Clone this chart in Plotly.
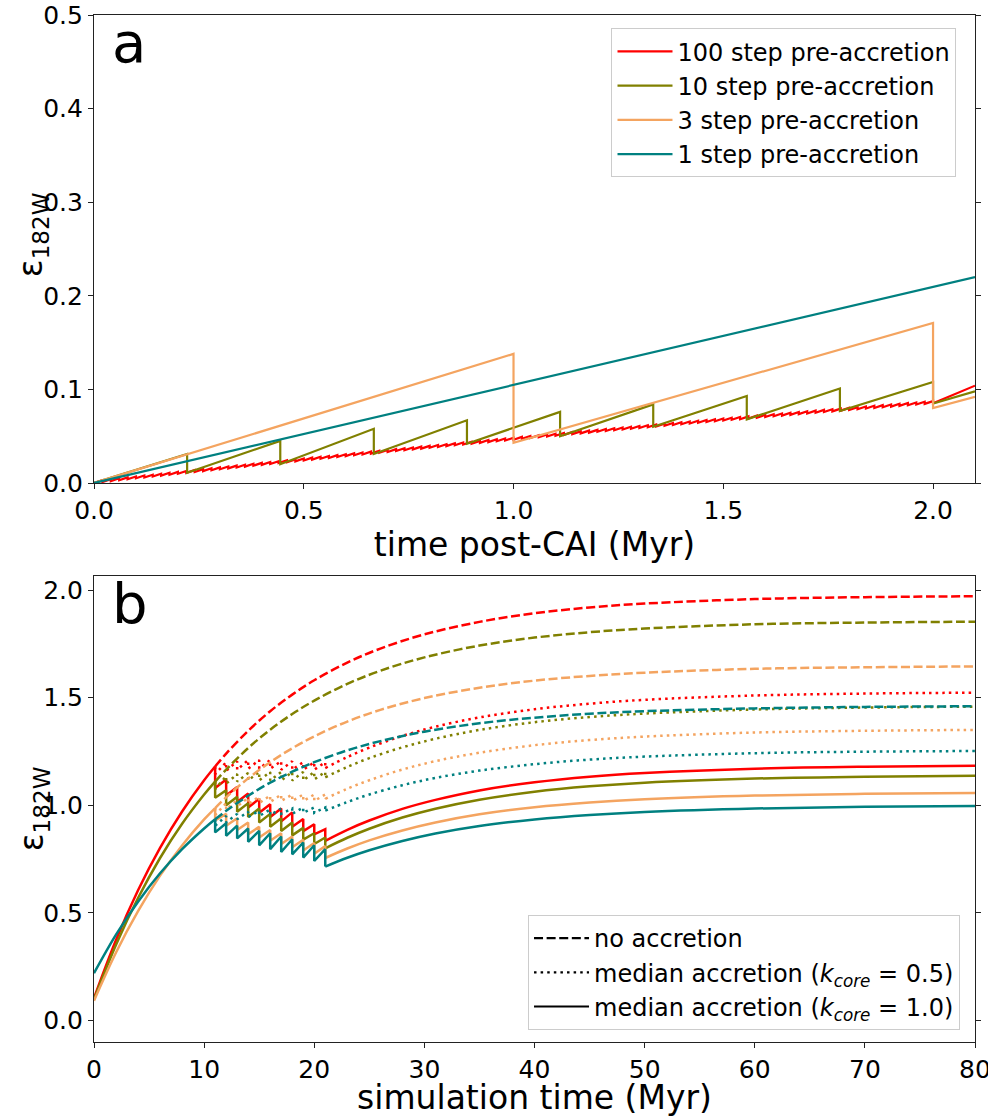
import numpy as np
import plotly.graph_objects as go

RED, OLIVE, ORANGE, TEAL = "#ff0000", "#808000", "#f4a460", "#008080"
FONT = "DejaVu Sans"

# ---------------- Panel a data (time post-CAI, Myr) ----------------
a_teal_t = [0.0, 2.1]
a_teal_y = [0.0, 0.220]

a_orange_steps = [1.0, 2.0]
a_orange_peak = [0.138, 0.171]
a_orange_trough = [0.043, 0.080]
a_orange_end = 0.092

a_olive_steps = [0.222, 0.444, 0.667, 0.889, 1.111, 1.333, 1.556, 1.778, 2.0]
a_olive_peak = [0.031, 0.045, 0.058, 0.067, 0.076, 0.084, 0.093, 0.101, 0.108]
a_olive_trough = [0.011, 0.020, 0.031, 0.042, 0.050, 0.060, 0.068, 0.077, 0.085]
a_olive_end = 0.098

a_red_steps = np.linspace(0.02, 2.0, 100)
a_red_peak = [
    0.0030, 0.0040, 0.0050, 0.0060, 0.0070, 0.0080, 0.0089, 0.0099, 0.0109, 0.0119,
    0.0129, 0.0138, 0.0148, 0.0157, 0.0167, 0.0177, 0.0186, 0.0196, 0.0205, 0.0215,
    0.0224, 0.0233, 0.0243, 0.0252, 0.0261, 0.0271, 0.0280, 0.0289, 0.0298, 0.0308,
    0.0317, 0.0326, 0.0335, 0.0344, 0.0353, 0.0362, 0.0371, 0.0380, 0.0389, 0.0397,
    0.0406, 0.0415, 0.0424, 0.0433, 0.0441, 0.0450, 0.0459, 0.0467, 0.0476, 0.0484,
    0.0493, 0.0502, 0.0510, 0.0518, 0.0527, 0.0535, 0.0544, 0.0552, 0.0560, 0.0568,
    0.0577, 0.0585, 0.0593, 0.0601, 0.0609, 0.0617, 0.0626, 0.0634, 0.0642, 0.0650,
    0.0657, 0.0665, 0.0673, 0.0681, 0.0689, 0.0697, 0.0705, 0.0712, 0.0720, 0.0728,
    0.0735, 0.0743, 0.0750, 0.0758, 0.0766, 0.0773, 0.0781, 0.0788, 0.0795, 0.0803,
    0.0810, 0.0817, 0.0825, 0.0832, 0.0839, 0.0846, 0.0854, 0.0861, 0.0868, 0.0875]
a_red_trough = [
    0.0010, 0.0020, 0.0030, 0.0040, 0.0050, 0.0059, 0.0069, 0.0079, 0.0089, 0.0099,
    0.0108, 0.0118, 0.0127, 0.0137, 0.0147, 0.0156, 0.0166, 0.0175, 0.0185, 0.0194,
    0.0203, 0.0213, 0.0222, 0.0231, 0.0241, 0.0250, 0.0259, 0.0268, 0.0278, 0.0287,
    0.0296, 0.0305, 0.0314, 0.0323, 0.0332, 0.0341, 0.0350, 0.0359, 0.0367, 0.0376,
    0.0385, 0.0394, 0.0403, 0.0411, 0.0420, 0.0429, 0.0437, 0.0446, 0.0454, 0.0463,
    0.0472, 0.0480, 0.0488, 0.0497, 0.0505, 0.0514, 0.0522, 0.0530, 0.0538, 0.0547,
    0.0555, 0.0563, 0.0571, 0.0579, 0.0587, 0.0596, 0.0604, 0.0612, 0.0620, 0.0627,
    0.0635, 0.0643, 0.0651, 0.0659, 0.0667, 0.0675, 0.0682, 0.0690, 0.0698, 0.0705,
    0.0713, 0.0720, 0.0728, 0.0736, 0.0743, 0.0751, 0.0758, 0.0765, 0.0773, 0.0780,
    0.0787, 0.0795, 0.0802, 0.0809, 0.0816, 0.0824, 0.0831, 0.0838, 0.0845, 0.0852]
a_red_end = 0.104
a_end_t = 2.1

# ---------------- Panel b data (simulation time, Myr) ----------------
# no-accretion (dashed) curves; the first 7 points (t<=11) are shared by all styles
dash_t = [0, 2, 4, 6, 8, 10, 11, 12, 14, 16, 18, 20, 23, 26, 30, 35, 40, 45, 50, 60, 70, 80]
red_dash = [0.104, 0.374, 0.605, 0.802, 0.971, 1.116, 1.180, 1.240, 1.346, 1.437, 1.514,
            1.581, 1.663, 1.728, 1.794, 1.852, 1.892, 1.919, 1.937, 1.958, 1.967, 1.971]
olive_dash = [0.098, 0.352, 0.569, 0.755, 0.914, 1.050, 1.110, 1.166, 1.266, 1.351, 1.424,
              1.486, 1.564, 1.625, 1.687, 1.742, 1.779, 1.804, 1.821, 1.841, 1.849, 1.853]
orange_dash = [0.092, 0.316, 0.508, 0.673, 0.813, 0.934, 0.987, 1.037, 1.125, 1.200, 1.265,
               1.320, 1.389, 1.443, 1.498, 1.546, 1.579, 1.601, 1.616, 1.634, 1.641, 1.645]
teal_dash = [0.220, 0.399, 0.552, 0.684, 0.796, 0.892, 0.935, 0.974, 1.044, 1.105, 1.156,
             1.200, 1.255, 1.298, 1.342, 1.381, 1.407, 1.425, 1.437, 1.450, 1.457, 1.460]
n_pre = 7

acc_t = [11, 12, 13, 14, 15, 16, 17, 18, 19, 20, 21]
# k_core = 1.0 (solid)
red_sol_peak = [1.180, 1.120, 1.085, 1.055, 1.030, 1.005, 0.985, 0.967, 0.936, 0.912, 0.889]
red_sol_trough = [1.080, 1.045, 1.015, 0.990, 0.965, 0.945, 0.925, 0.900, 0.880, 0.865, 0.835]
olive_sol_peak = [1.110, 1.070, 1.040, 1.010, 0.985, 0.960, 0.940, 0.920, 0.895, 0.870, 0.850]
olive_sol_trough = [1.035, 1.000, 0.970, 0.945, 0.920, 0.900, 0.880, 0.860, 0.840, 0.820, 0.800]
orange_sol_peak = [0.987, 0.960, 0.940, 0.920, 0.900, 0.885, 0.870, 0.855, 0.840, 0.825, 0.810]
orange_sol_trough = [0.930, 0.905, 0.885, 0.865, 0.850, 0.835, 0.820, 0.805, 0.790, 0.775, 0.755]
teal_sol_peak = [0.935, 0.916, 0.905, 0.892, 0.881, 0.870, 0.855, 0.842, 0.827, 0.814, 0.796]
teal_sol_trough = [0.874, 0.858, 0.846, 0.830, 0.814, 0.796, 0.783, 0.772, 0.757, 0.741, 0.715]
# k_core = 0.5 (dotted)
red_dot_peak = [1.180, 1.200, 1.205, 1.210, 1.210, 1.210, 1.205, 1.205, 1.200, 1.200, 1.200]
red_dot_trough = [1.145, 1.160, 1.165, 1.170, 1.170, 1.170, 1.165, 1.165, 1.165, 1.165, 1.173]
olive_dot_peak = [1.110, 1.135, 1.145, 1.150, 1.155, 1.155, 1.155, 1.155, 1.155, 1.155, 1.155]
olive_dot_trough = [1.075, 1.100, 1.110, 1.115, 1.115, 1.115, 1.115, 1.115, 1.115, 1.120, 1.130]
orange_dot_peak = [0.987, 1.010, 1.025, 1.035, 1.040, 1.045, 1.050, 1.050, 1.050, 1.050, 1.050]
orange_dot_trough = [0.955, 0.980, 0.995, 1.005, 1.010, 1.015, 1.020, 1.020, 1.020, 1.020, 1.030]
teal_dot_peak = [0.935, 0.950, 0.960, 0.970, 0.975, 0.980, 0.985, 0.985, 0.990, 0.990, 0.990]
teal_dot_trough = [0.905, 0.920, 0.935, 0.945, 0.950, 0.955, 0.960, 0.960, 0.965, 0.965, 0.975]

post_t = [21, 23, 25, 28, 31, 35, 40, 45, 50, 60, 70, 80]
red_sol_post = [0.835, 0.886, 0.929, 0.983, 1.025, 1.069, 1.107, 1.133, 1.150, 1.170, 1.179, 1.183]
olive_sol_post = [0.800, 0.849, 0.891, 0.943, 0.984, 1.026, 1.063, 1.088, 1.105, 1.124, 1.133, 1.137]
orange_sol_post = [0.755, 0.799, 0.837, 0.883, 0.920, 0.958, 0.991, 1.013, 1.028, 1.045, 1.053, 1.057]
teal_sol_post = [0.715, 0.756, 0.791, 0.834, 0.869, 0.904, 0.934, 0.955, 0.969, 0.985, 0.993, 0.996]
red_dot_post = [1.173, 1.224, 1.268, 1.322, 1.365, 1.408, 1.446, 1.472, 1.490, 1.510, 1.519, 1.523]
olive_dot_post = [1.130, 1.178, 1.219, 1.269, 1.309, 1.350, 1.386, 1.410, 1.426, 1.445, 1.454, 1.458]
orange_dot_post = [1.030, 1.077, 1.116, 1.166, 1.205, 1.244, 1.279, 1.303, 1.319, 1.338, 1.346, 1.350]
teal_dot_post = [0.975, 1.015, 1.050, 1.093, 1.127, 1.161, 1.191, 1.212, 1.226, 1.242, 1.249, 1.252]

a_labels = ["100 step pre-accretion", "10 step pre-accretion",
            "3 step pre-accretion", "1 step pre-accretion"]
b_labels = ["no accretion",
            "median accretion (<i>k</i><sub><i>core</i></sub> = 0.5)",
            "median accretion (<i>k</i><sub><i>core</i></sub> = 1.0)"]
y_title = "ε<sub>182W</sub>"


def saw(t0, y0, steps, peaks, troughs, t_end=None, y_end=None):
    xs, ys = [t0], [y0]
    for t, p, q in zip(steps, peaks, troughs):
        xs += [t, t]
        ys += [p, q]
    if t_end is not None:
        xs.append(t_end)
        ys.append(y_end)
    return xs, ys


fig = go.Figure()

# ---- panel a ----
LW_A = 2.2
xs, ys = saw(0.0, 0.0, a_red_steps, a_red_peak, a_red_trough, a_end_t, a_red_end)
fig.add_trace(go.Scatter(x=xs, y=ys, mode="lines", line=dict(color=RED, width=LW_A),
                         name=a_labels[0], legend="legend", xaxis="x", yaxis="y"))
xs, ys = saw(0.0, 0.0, a_olive_steps, a_olive_peak, a_olive_trough, a_end_t, a_olive_end)
fig.add_trace(go.Scatter(x=xs, y=ys, mode="lines", line=dict(color=OLIVE, width=LW_A),
                         name=a_labels[1], legend="legend", xaxis="x", yaxis="y"))
xs, ys = saw(0.0, 0.0, a_orange_steps, a_orange_peak, a_orange_trough, a_end_t, a_orange_end)
fig.add_trace(go.Scatter(x=xs, y=ys, mode="lines", line=dict(color=ORANGE, width=LW_A),
                         name=a_labels[2], legend="legend", xaxis="x", yaxis="y"))
fig.add_trace(go.Scatter(x=a_teal_t, y=a_teal_y, mode="lines", line=dict(color=TEAL, width=LW_A),
                         name=a_labels[3], legend="legend", xaxis="x", yaxis="y"))

# ---- panel b ----
LW_B = 2.5
DASH = "9px,3.6px"
DOT = "2.5px,4.1px"

series = [
    (RED, red_dash, red_dot_peak, red_dot_trough, red_dot_post, red_sol_peak, red_sol_trough, red_sol_post),
    (OLIVE, olive_dash, olive_dot_peak, olive_dot_trough, olive_dot_post, olive_sol_peak, olive_sol_trough, olive_sol_post),
    (ORANGE, orange_dash, orange_dot_peak, orange_dot_trough, orange_dot_post, orange_sol_peak, orange_sol_trough, orange_sol_post),
    (TEAL, teal_dash, teal_dot_peak, teal_dot_trough, teal_dot_post, teal_sol_peak, teal_sol_trough, teal_sol_post),
]


def add_b(x, y, color, dash, shape):
    fig.add_trace(go.Scatter(x=x, y=y, mode="lines", showlegend=False,
                             line=dict(color=color, width=LW_B, dash=dash, shape=shape),
                             xaxis="x2", yaxis="y2", hoverinfo="skip"))


for color, dsh, dpk, dtr, dpo, spk, sstr, spo in series:
    add_b(dash_t[n_pre - 1:], dsh[n_pre - 1:], color, DASH, "spline")
    xs, ys = saw(acc_t[0], dpk[0], acc_t, dpk, dtr)
    add_b(xs[1:], ys[1:], color, DOT, "linear")
    add_b(post_t, dpo, color, DOT, "spline")
    xs, ys = saw(acc_t[0], spk[0], acc_t, spk, sstr)
    add_b(xs[1:], ys[1:], color, "solid", "linear")
    add_b(post_t, spo, color, "solid", "spline")
    add_b(dash_t[:n_pre], dsh[:n_pre], color, "solid", "spline")

for lab, dsh in zip(b_labels, [DASH, DOT, "solid"]):
    fig.add_trace(go.Scatter(x=[None], y=[None], mode="lines", name=lab, legend="legend2",
                             line=dict(color="black", width=2.2, dash=dsh),
                             xaxis="x2", yaxis="y2"))

TOP_A = 0.5443
TOP_B = 0.4537
TICK = 25
TITLE = 33

axis_common = dict(showline=True, linecolor="#222", linewidth=1.2, mirror=True,
                   ticks="outside", ticklen=5, tickwidth=1.2, tickcolor="#222",
                   showgrid=False, zeroline=False, automargin=False,
                   ticklabeloverflow="allow",
                   tickfont=dict(family=FONT, size=TICK, color="black"))

fig.update_layout(
    width=988, height=1117,
    margin=dict(l=94, r=13, t=15, b=75),
    plot_bgcolor="white", paper_bgcolor="white",
    font=dict(family=FONT, color="black"),
    xaxis=dict(domain=[0, 1], range=[0, 2.1], anchor="y", tickvals=[0, 0.5, 1.0, 1.5, 2.0],
               tickformat=".1f",
               title=dict(text="time post-CAI (Myr)", font=dict(family=FONT, size=TITLE), standoff=3),
               **axis_common),
    yaxis=dict(domain=[TOP_A, 1.0], range=[0, 0.5], anchor="x",
               tickvals=[0, 0.1, 0.2, 0.3, 0.4, 0.5], tickformat=".1f",
               **{**axis_common, "mirror": "ticks"}),
    xaxis2=dict(domain=[0, 1], range=[0, 80], anchor="y2", tickvals=list(range(0, 90, 10)),
                title=dict(text="simulation time (Myr)", font=dict(family=FONT, size=TITLE), standoff=3),
                **axis_common),
    yaxis2=dict(domain=[0, TOP_B], range=[-0.1, 2.065], anchor="x2",
                tickvals=[0, 0.5, 1.0, 1.5, 2.0], tickformat=".1f",
                **{**axis_common, "mirror": "ticks"}),
    legend=dict(x=0.979, y=0.987, xanchor="right", yanchor="top",
                bgcolor="rgba(255,255,255,0.85)", bordercolor="#cccccc", borderwidth=1,
                font=dict(family=FONT, size=24), itemwidth=55),
    legend2=dict(x=0.983, y=0.0117, xanchor="right", yanchor="bottom",
                 bgcolor="rgba(255,255,255,0.85)", bordercolor="#cccccc", borderwidth=1,
                 font=dict(family=FONT, size=24), itemwidth=55),
    annotations=[
        dict(text="a", x=0.018, y=1.015, xref="x domain", yref="y domain", xanchor="left",
             yanchor="top", showarrow=False, font=dict(family=FONT, size=56)),
        dict(text="b", x=0.018, y=1.015, xref="x2 domain", yref="y2 domain", xanchor="left",
             yanchor="top", showarrow=False, font=dict(family=FONT, size=56)),
        dict(text=y_title, x=-0.069, y=0.53, xref="paper", yref="y domain",
             xanchor="center", yanchor="middle", textangle=-90, showarrow=False,
             font=dict(family=FONT, size=TITLE)),
        dict(text=y_title, x=-0.069, y=0.5, xref="paper", yref="y2 domain",
             xanchor="center", yanchor="middle", textangle=-90, showarrow=False,
             font=dict(family=FONT, size=TITLE)),
    ],
    showlegend=True,
)

fig.write_html("out.html", config={"displayModeBar": False},
               post_script="document.body.style.margin='0px';")
